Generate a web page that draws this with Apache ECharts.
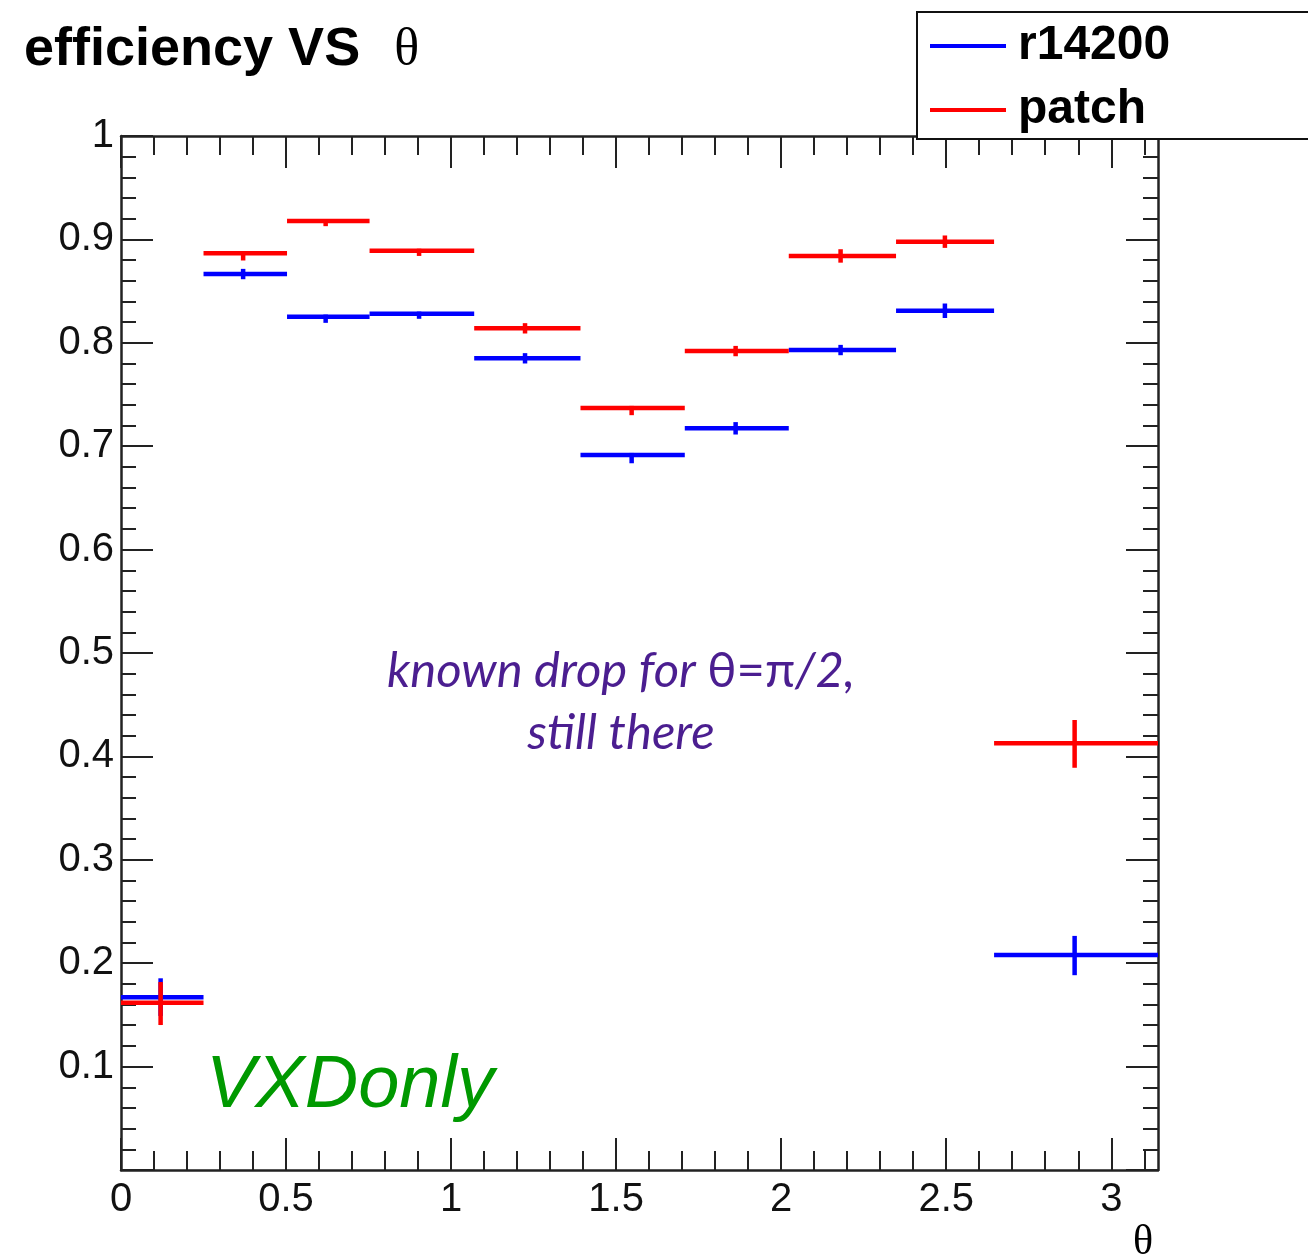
<!DOCTYPE html>
<html>
<head>
<meta charset="utf-8">
<script src="https://cdn.jsdelivr.net/npm/echarts@6/dist/echarts.min.js"></script>
<style>
html,body{margin:0;padding:0;background:#fff;}
#chart{width:1308px;height:1259px;}
</style>
</head>
<body>
<div id="chart"></div>
<script>
// ---- data ----
const binLow    = [0, 0.25, 0.503, 0.753, 1.07, 1.392, 1.708, 2.023, 2.348, 2.645];
const binHigh   = [0.25, 0.503, 0.753, 1.07, 1.392, 1.708, 2.023, 2.348, 2.645, 3.1416];
const binCenter = [0.12, 0.37, 0.62, 0.903, 1.224, 1.547, 1.862, 2.18, 2.496, 2.889];

const r14200    = [0.167, 0.8665, 0.8253, 0.8282, 0.785, 0.6915, 0.7173, 0.793, 0.831, 0.2079];
const r14200Lo  = [0.018, 0.005, 0.006, 0.005, 0.005, 0.008, 0.006, 0.005, 0.007, 0.0195];
const r14200Hi  = [0.0184, 0.005, 0.002, 0.002, 0.005, 0.002, 0.006, 0.005, 0.007, 0.0185];

const patch     = [0.1618, 0.8866, 0.9178, 0.889, 0.814, 0.737, 0.792, 0.884, 0.8978, 0.4127];
const patchLo   = [0.0216, 0.007, 0.005, 0.005, 0.005, 0.007, 0.005, 0.0065, 0.006, 0.0237];
const patchHi   = [0.020, 0.002, 0.001, 0.002, 0.005, 0.002, 0.005, 0.0065, 0.006, 0.0225];

const xMajorTicks = [0, 0.5, 1, 1.5, 2, 2.5, 3];
const xMinorTicks = [0.1,0.2,0.3,0.4,0.6,0.7,0.8,0.9,1.1,1.2,1.3,1.4,1.6,1.7,1.8,1.9,2.1,2.2,2.3,2.4,2.6,2.7,2.8,2.9,3.1];
const xMax = Math.PI;

function buildData(vals, lo, hi) {
  return vals.map((v, i) => [binLow[i], binHigh[i], binCenter[i], v, lo[i], hi[i]]);
}

function renderItem(params, api) {
  const xl = api.value(0), xh = api.value(1), xc = api.value(2);
  const y = api.value(3), el = api.value(4), eh = api.value(5);
  const p1 = api.coord([xl, y]), p2 = api.coord([xh, y]);
  const pt = api.coord([xc, y + eh]), pb = api.coord([xc, y - el]);
  const style = { stroke: api.visual('color'), lineWidth: 4.5, fill: null, lineCap: 'butt' };
  return {
    type: 'group',
    children: [
      { type: 'line', shape: { x1: p1[0], y1: p1[1], x2: p2[0], y2: p2[1] }, style: style },
      { type: 'line', shape: { x1: pt[0], y1: pt[1], x2: pb[0], y2: pb[1] }, style: style }
    ]
  };
}

const axisColor = '#222';
const labelFont = { fontFamily: 'Liberation Sans', fontSize: 40, color: '#111' };

function xAxisDef(pos, major, showLine, showLabel) {
  return {
    type: 'value', position: pos, min: 0, max: xMax,
    axisLine: { show: showLine, onZero: false, lineStyle: { color: axisColor, width: 2.5 } },
    axisTick: { show: true, inside: true, length: major ? 32 : 19,
                customValues: major ? xMajorTicks : xMinorTicks,
                lineStyle: { color: axisColor, width: 2 } },
    axisLabel: showLabel ? Object.assign({ show: true, margin: 10, customValues: xMajorTicks }, labelFont) : { show: false },
    splitLine: { show: false }
  };
}
function yAxisDef(pos, showLabel) {
  return {
    type: 'value', position: pos, min: 0, max: 1, interval: 0.1,
    axisLine: { show: true, onZero: false, lineStyle: { color: axisColor, width: 2.5 } },
    axisTick: { show: true, inside: true, length: 32, lineStyle: { color: axisColor, width: 2 } },
    minorTick: { show: true, splitNumber: 5, length: 15, lineStyle: { color: axisColor, width: 2 } },
    axisLabel: showLabel ? Object.assign({ show: true, margin: 7, showMinLabel: false }, labelFont) : { show: false },
    splitLine: { show: false }, minorSplitLine: { show: false }
  };
}

const chart = echarts.init(document.getElementById('chart'), null, { renderer: 'canvas' });
chart.setOption({
  animation: false,
  backgroundColor: '#fff',
  title: {
    text: '{a|efficiency VS}{b|  θ}',
    left: 19, top: 18,
    textStyle: {
      rich: {
        a: { fontFamily: 'Liberation Sans', fontWeight: 'bold', fontSize: 54, color: '#000' },
        b: { fontFamily: 'Liberation Serif', fontWeight: 'normal', fontSize: 52, color: '#000', padding: [0, 0, 0, 8] }
      }
    }
  },
  legend: {
    orient: 'vertical', left: 917, top: 12,
    padding: [8, 400, 3, 13],
    itemGap: 12, itemWidth: 76, itemHeight: 4, icon: 'rect',
    borderColor: '#111', borderWidth: 2, backgroundColor: '#fff',
    textStyle: { fontFamily: 'Liberation Sans', fontWeight: 'bold', fontSize: 48, lineHeight: 52, color: '#000', padding: [0, 0, 0, 7] },
    data: ['r14200', 'patch']
  },
  grid: { left: 121, right: 150, top: 136, bottom: 89, containLabel: false },
  xAxis: [
    xAxisDef('bottom', true, true, true),
    xAxisDef('bottom', false, false, false),
    xAxisDef('top', true, true, false),
    xAxisDef('top', false, false, false)
  ],
  yAxis: [ yAxisDef('left', true), yAxisDef('right', false) ],
  series: [
    { name: 'r14200', type: 'custom', color: '#0000ff', xAxisIndex: 0, yAxisIndex: 0,
      renderItem: renderItem, encode: { x: [0, 1, 2], y: [3] }, data: buildData(r14200, r14200Lo, r14200Hi), clip: true },
    { name: 'patch', type: 'custom', color: '#ff0000', xAxisIndex: 0, yAxisIndex: 0,
      renderItem: renderItem, encode: { x: [0, 1, 2], y: [3] }, data: buildData(patch, patchLo, patchHi), clip: true }
  ],
  graphic: [
    { type: 'text', left: 1133, top: 1222, z: 10,
      style: { text: 'θ', font: 'normal 42px "Liberation Serif"', fill: '#000' } },
    { type: 'text', x: 621, y: 671, z: 10,
      style: { text: '{i|known drop for }{u|θ=π}{i|/2,}', align: 'center', verticalAlign: 'middle',
               rich: { i: { font: 'italic 49px Lato', fill: '#4b1e90' },
                       u: { font: 'normal 49px Lato', fill: '#4b1e90' } } } },
    { type: 'text', x: 621, y: 733, z: 10,
      style: { text: 'still there', font: 'italic 49px Lato', fill: '#4b1e90', align: 'center', verticalAlign: 'middle' } },
    { type: 'text', x: 206, y: 1086, z: 10,
      style: { text: 'VXDonly', font: 'italic 74px "Liberation Sans"', fill: '#009900', align: 'left', verticalAlign: 'middle' } }
  ]
});
</script>
</body>
</html>
